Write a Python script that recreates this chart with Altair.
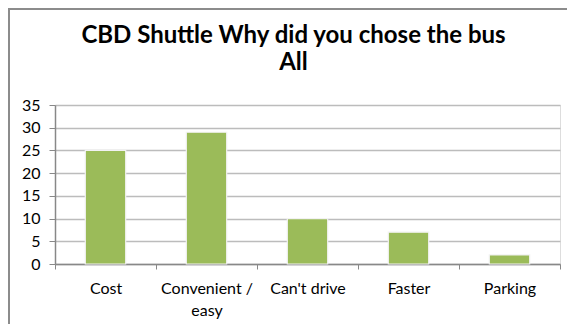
import altair as alt
import pandas as pd

categories = ["Cost", "Convenient / easy", "Can't drive", "Faster", "Parking"]
counts = [25, 29, 10, 7, 2]
y_ticks = [0, 5, 10, 15, 20, 25, 30, 35]

df = pd.DataFrame({"reason": categories, "count": counts})

FONT = "Lato"

bars = alt.Chart(df).mark_bar(
    color="#9BBB59", stroke="#f2f2f2", strokeWidth=1.2, width={"band": 0.4}
).encode(
    x=alt.X("reason:N", sort=categories, title=None,
            scale=alt.Scale(paddingInner=0, paddingOuter=0),
            axis=alt.Axis(labelAngle=0, labelFont=FONT, labelFontSize=16,
                          labelColor="#000000", labelPadding=11,
                          labelExpr="datum.value == 'Convenient / easy' ? ['Convenient /', 'easy'] : datum.value",
                          labelLineHeight=22,
                          tickBand="extent", tickColor="#888888", tickSize=5,
                          domainColor="#888888", domainWidth=1.5, grid=False)),
    y=alt.Y("count:Q", title=None,
            scale=alt.Scale(domain=[0, 35], nice=False),
            axis=alt.Axis(values=y_ticks, labelFont=FONT, labelFontSize=16,
                          labelColor="#000000", labelPadding=9,
                          tickColor="#888888", tickSize=6, domainColor="#888888",
                          domainWidth=1.5, gridColor="#bcbcbc", gridWidth=1.3))
)

frame = alt.Chart(alt.Data(values=[{"a": 1}])).mark_rect(
    fill=None, stroke="#8c8c8c", strokeWidth=2
).encode(
    x=alt.value(-46), x2=alt.value(600), y=alt.value(-96), y2=alt.value(320)
)

chart = alt.layer(frame, bars).properties(
    width=505, height=159,
    title=alt.Title(["CBD Shuttle Why did you chose the bus", "All"],
                    font=FONT, fontSize=24, fontWeight="bold", color="#000000",
                    anchor="middle", frame="group", dx=-14, offset=-67, lineHeight=27),
    autosize=alt.AutoSizeParams(type="none"),
    padding={"left": 47, "top": 97, "right": 7, "bottom": 60},
).configure_view(stroke=None).configure(background="white")

chart.save("out.html", embed_options={"renderer": "svg", "actions": False})
